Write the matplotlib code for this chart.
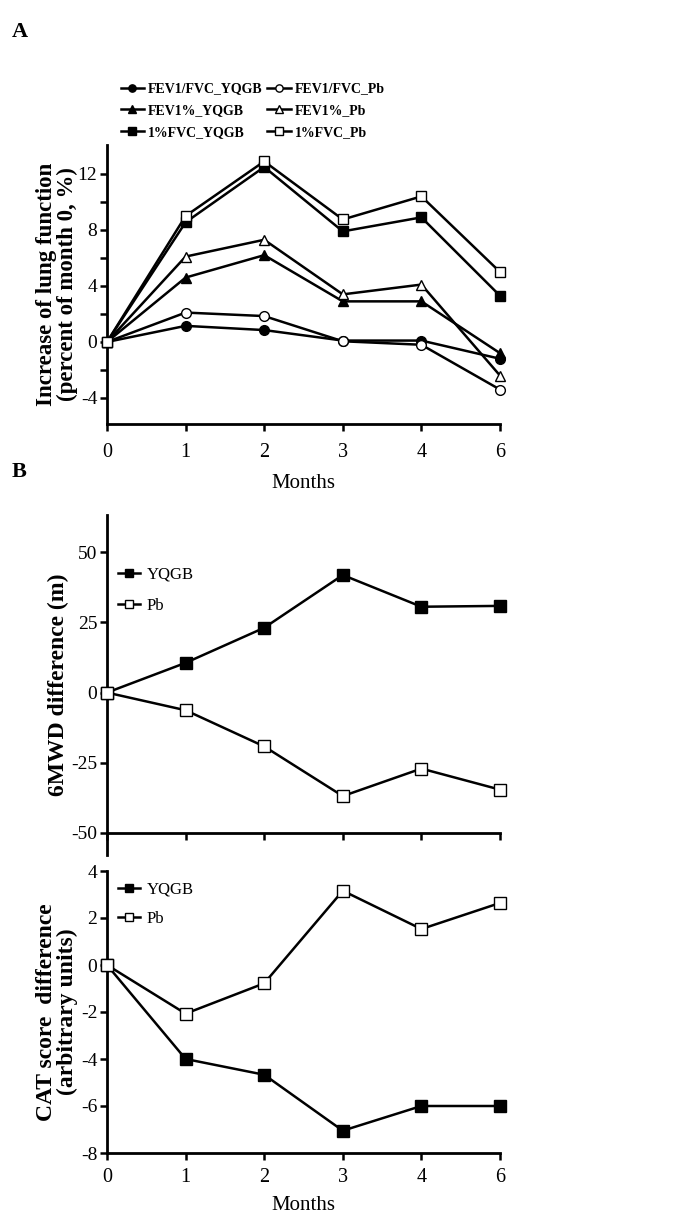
import matplotlib
matplotlib.use("Agg")
import matplotlib.pyplot as plt
import numpy as np

plt.rcParams['font.family'] = ['Liberation Serif', 'DejaVu Serif']
plt.rcParams['axes.unicode_minus'] = False

months = ["0", "1", "2", "3", "4", "6"]

# Panel A
fev1fvc_yqgb = [0, 1.15, 0.85, 0.1, 0.1, -1.2]
fev1fvc_pb = [0, 2.1, 1.85, 0.05, -0.2, -3.4]
fev1pct_yqgb = [0, 4.6, 6.2, 2.9, 2.9, -0.8]
fev1pct_pb = [0, 6.1, 7.3, 3.4, 4.1, -2.4]
fvc_yqgb = [0, 8.55, 12.5, 7.9, 8.9, 3.3]
fvc_pb = [0, 9.0, 12.9, 8.75, 10.4, 5.0]
labels_a = ["FEV1/FVC_YQGB", "FEV1/FVC_Pb", "FEV1%_YQGB", "FEV1%_Pb", "1%FVC_YQGB", "1%FVC_Pb"]

# Panel B (6MWD)
mwd_yqgb = [0, 10.6, 23.1, 41.9, 30.6, 30.9]
mwd_pb = [0, -6.3, -19.2, -36.9, -27.1, -34.6]

# Panel C (CAT)
cat_yqgb = [0, -4.0, -4.67, -7.05, -6.0, -6.0]
cat_pb = [0, -2.07, -0.78, 3.16, 1.53, 2.64]

W, H = 688, 1231
fig = plt.figure(figsize=(W/100, H/100), dpi=100)

def axrect(x0, x1, ytop, ybot):
    return [x0/W, 1 - ybot/H, (x1 - x0)/W, (ybot - ytop)/H]

x = np.arange(len(months))
lw = 1.8
ms = 7
AXW = 393.0

def style(ax, xpad):
    for s in ['top', 'right']:
        ax.spines[s].set_visible(False)
    for s in ['left', 'bottom']:
        ax.spines[s].set_linewidth(2.0)
    ax.tick_params(direction='out', length=5, width=1.8, labelsize=14, pad=2)
    ax.tick_params(axis='x', pad=xpad, labelsize=14.5)
    ax.set_xlim(0, len(months) - 1)
    ax.set_xticks(x)
    ax.set_xticklabels(months)

# ---------- Panel A ----------
axA = fig.add_axes(axrect(107, 500, 145, 424))
style(axA, 9)
sA = [
    (fev1fvc_yqgb, 'o', 'black'),
    (fev1fvc_pb, 'o', 'white'),
    (fev1pct_yqgb, '^', 'black'),
    (fev1pct_pb, '^', 'white'),
    (fvc_yqgb, 's', 'black'),
    (fvc_pb, 's', 'white'),
]
handles = []
for (vals, mk, fc), lab in zip(sA, labels_a):
    h, = axA.plot(x, vals, color='black', lw=lw, marker=mk, ms=ms,
                  mfc=fc, mec='black', mew=1.0, label=lab, clip_on=False, zorder=3)
    handles.append(h)
axA.set_ylim(-5.86, 14.07)
axA.set_yticks(np.arange(-4, 13, 2))
axA.set_yticklabels([str(v) if v % 4 == 0 else "" for v in range(-4, 13, 2)])
axA.set_xlabel("Months", fontsize=15, labelpad=8)
axA.set_ylabel("Increase of lung function\n(percent of month 0, %)",
               fontsize=16.5, fontweight='bold', linespacing=1.0)
axA.yaxis.set_label_coords((78 - 107) / AXW, 0.5)
order = [0, 2, 4, 1, 3, 5]
fig.legend([handles[i] for i in order], [labels_a[i] for i in order],
           ncol=2, loc='upper left', bbox_to_anchor=(108/W, 1 - 70/H),
           frameon=False, handlelength=1.7, handletextpad=0.3,
           columnspacing=0.3, labelspacing=0.62,
           prop={'size': 10, 'weight': 'bold'}, markerscale=0.75)

fig.text(12/W, 1 - 32/H, "A", fontsize=16, fontweight='bold', va='center')
fig.text(12/W, 1 - 472/H, "B", fontsize=16, fontweight='bold', va='center')

# ---------- Panel B ----------
axB = fig.add_axes(axrect(107, 500, 515, 855))
style(axB, 2)
axB.plot(x, mwd_yqgb, color='black', lw=lw, marker='s', ms=ms + 1,
         mfc='black', mec='black', label='YQGB', clip_on=False, zorder=3)
axB.plot(x, mwd_pb, color='black', lw=lw, marker='s', ms=ms + 1,
         mfc='white', mec='black', mew=1.0, label='Pb', clip_on=False, zorder=3)
axB.set_ylim(-57.9, 63.3)
axB.spines['bottom'].set_position(('data', -50))
axB.set_yticks([-50, -25, 0, 25, 50])
axB.set_xticklabels([])
axB.set_ylabel("6MWD difference (m)", fontsize=17, fontweight='bold')
axB.yaxis.set_label_coords((69 - 107) / AXW, 0.5)
axB.legend(loc='upper left', bbox_to_anchor=(-0.01, 0.893), frameon=False,
           handlelength=1.3, handletextpad=0.4, labelspacing=0.95,
           prop={'size': 12}, markerscale=0.75)

# ---------- Panel C ----------
axC = fig.add_axes(axrect(107, 500, 871, 1153))
style(axC, 6)
axC.plot(x, cat_yqgb, color='black', lw=lw, marker='s', ms=ms + 1,
         mfc='black', mec='black', label='YQGB', clip_on=False, zorder=3)
axC.plot(x, cat_pb, color='black', lw=lw, marker='s', ms=ms + 1,
         mfc='white', mec='black', mew=1.0, label='Pb', clip_on=False, zorder=3)
axC.set_ylim(-8, 4)
axC.set_yticks([-8, -6, -4, -2, 0, 2, 4])
axC.set_xlabel("Months", fontsize=15, labelpad=6)
axC.set_ylabel("CAT score  difference\n(arbitrary units)", fontsize=17,
               fontweight='bold', linespacing=1.0)
axC.yaxis.set_label_coords((78 - 107) / AXW, 0.5)
axC.legend(loc='upper left', bbox_to_anchor=(-0.01, 1.015), frameon=False,
           handlelength=1.3, handletextpad=0.4, labelspacing=0.78,
           prop={'size': 12}, markerscale=0.75)

fig.savefig("out.png", dpi=100)
